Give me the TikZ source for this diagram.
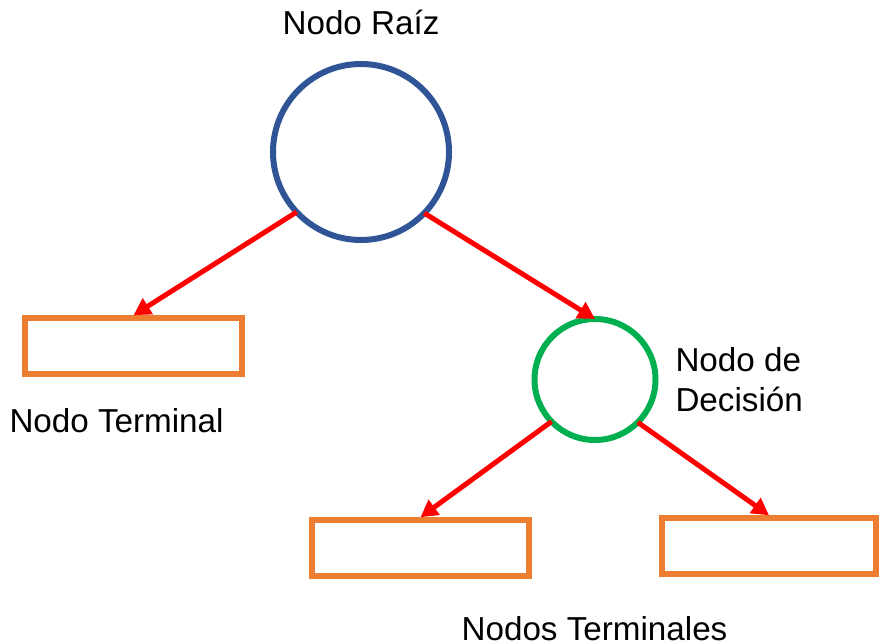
\documentclass[tikz,border=0pt]{standalone}
\usepackage{fontspec}
\setmainfont{Liberation Sans}
\usetikzlibrary{arrows.meta}
\definecolor{rootblue}{HTML}{2F5597}
\definecolor{leaforange}{HTML}{ED7D31}
\definecolor{decgreen}{HTML}{00B050}
\definecolor{arrred}{HTML}{FF0000}
\begin{document}
\begin{tikzpicture}[x=1bp,y=-1bp,
  lbl/.style={inner sep=0pt,outer sep=0pt,font=\fontsize{33.2bp}{40bp}\selectfont,text=black},
  rootnode/.style={circle,draw=rootblue,line width=6bp,minimum size=176bp,inner sep=0pt,outer sep=0pt},
  decnode/.style={circle,draw=decgreen,line width=6bp,minimum size=121bp,inner sep=0pt,outer sep=0pt},
  leafbox/.style={rectangle,draw=leaforange,line width=5.5bp,minimum width=217bp,minimum height=56bp,inner sep=0pt,outer sep=2.75bp},
  edge/.style={draw=arrred,line width=5bp,-{Triangle[length=17bp,width=18bp]}}]
\useasboundingbox (0,0) rectangle (879,644);
\node[rootnode] (root) at (361,152) {};
\node[decnode] (dec) at (595,379.5) {};
\node[leafbox] (leafA) at (133.5,346) {};
\node[leafbox] (leafB) at (420.5,548) {};
\node[leafbox,minimum width=214bp] (leafC) at (769,546) {};
\node[lbl,anchor=base] (troot) at (361,35) {Nodo Raíz};
\node[lbl,anchor=base west] (tleaf) at (9.5,432) {Nodo Terminal};
\node[lbl,anchor=base west] (tdec1) at (675.5,371.5) {Nodo de};
\node[lbl,anchor=base west] (tdec2) at (675.5,411) {Decisión};
\node[lbl,anchor=base] (tleaves) at (594.5,640) {Nodos Terminales};
\draw[edge] (root.223.6) -- (leafA.north);
\draw[edge] (root.316.4) -- (dec.north);
\draw[edge] (dec.224.7) -- (leafB.north);
\draw[edge] (dec.315.3) -- (leafC.north);
\end{tikzpicture}
\end{document}
